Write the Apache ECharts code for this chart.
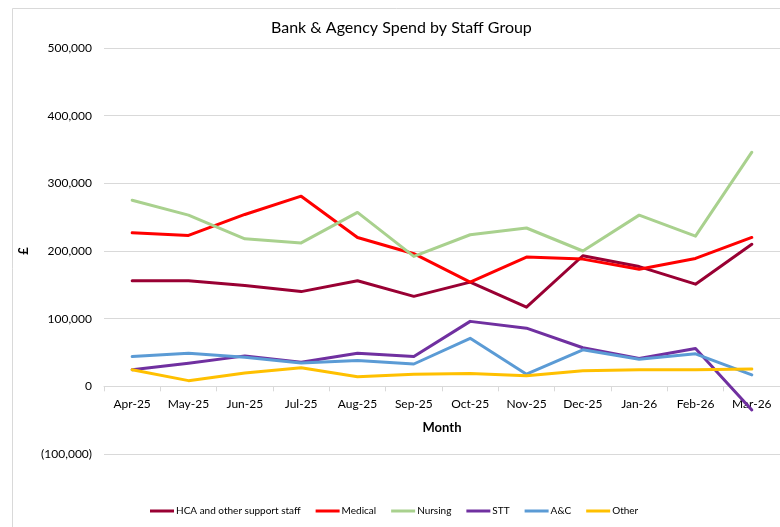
<!DOCTYPE html>
<html>
<head>
<meta charset="utf-8">
<script src="https://cdn.jsdelivr.net/npm/echarts@6/dist/echarts.min.js"></script>
<style>
  html, body { margin: 0; padding: 0; background: #fff; }
  #chart { width: 780px; height: 527px; }
</style>
</head>
<body>
<div id="chart"></div>
<script>
// Monthly bank & agency spend (£) per staff group
const months = ['Apr-25', 'May-25', 'Jun-25', 'Jul-25', 'Aug-25', 'Sep-25',
                'Oct-25', 'Nov-25', 'Dec-25', 'Jan-26', 'Feb-26', 'Mar-26'];
const hca     = [156000, 156000, 149000, 140000, 156000, 133000, 154000, 117000, 193000, 177000, 151000, 210000];
const medical = [227000, 223000, 254000, 281000, 220000, 196000, 154000, 191000, 188000, 173000, 189000, 220000];
const nursing = [275000, 253000, 218000, 212000, 257000, 192000, 224000, 234000, 200000, 253000, 222000, 346000];
const stt     = [24600, 34000, 45000, 35500, 49000, 44000, 96000, 86000, 57000, 41000, 56000, -35000];
const ac      = [44000, 49000, 43000, 34500, 38000, 33000, 71000, 18000, 54000, 40000, 48000, 17000];
const other   = [24600, 8400, 19700, 27600, 14300, 18000, 19000, 15800, 23000, 24600, 24600, 25500];
const yTicks  = { min: -100000, max: 500000, step: 100000 };

const FONT = 'Lato, "Open Sans", sans-serif';

// plot area
const GRID = { left: 104, top: 48, width: 686, height: 406 };
// pixel distance from the bottom of the plot to the zero line
const zeroOffset = GRID.height * (0 - yTicks.min) / (yTicks.max - yTicks.min);

function fmt(v) {
  const s = Math.abs(v).toLocaleString('en-GB');
  return v < 0 ? '(' + s + ')' : s;
}

const seriesDefs = [
  { name: 'HCA and other support staff', data: hca,     color: '#990033' },
  { name: 'Medical',                     data: medical, color: '#FF0000' },
  { name: 'Nursing',                     data: nursing, color: '#A9D18E' },
  { name: 'STT',                         data: stt,     color: '#7030A0' },
  { name: 'A&C',                         data: ac,      color: '#5B9BD5' },
  { name: 'Other',                       data: other,   color: '#FFC000' }
];

const chart = echarts.init(document.getElementById('chart'), null, { renderer: 'canvas' });
chart.setOption({
  animation: false,
  backgroundColor: '#ffffff',
  textStyle: { fontFamily: FONT },
  title: {
    text: 'Bank & Agency Spend by Staff Group',
    left: 271,
    top: 20,
    padding: 0,
    textStyle: { fontFamily: FONT, fontSize: 16, fontWeight: 'normal', color: '#000' }
  },
  graphic: [{
    type: 'rect',
    shape: { x: 12.5, y: 8.5, width: 800, height: 600 },
    style: { fill: 'none', stroke: '#d9d9d9', lineWidth: 1 },
    silent: true, z: -1
  }],
  legend: {
    left: 150,
    top: 506,
    padding: 0,
    itemWidth: 24,
    itemHeight: 3,
    itemGap: 15,
    icon: 'rect',
    textStyle: { fontFamily: FONT, fontSize: 10, color: '#000', padding: [0, 0, 0, -3] },
    data: seriesDefs.map(s => s.name)
  },
  grid: Object.assign({ containLabel: false }, GRID),
  xAxis: {
    type: 'category',
    data: months,
    boundaryGap: true,
    position: 'bottom',
    offset: -zeroOffset,
    name: 'Month',
    nameLocation: 'middle',
    nameGap: 35,
    nameTextStyle: { fontFamily: FONT, fontSize: 13, fontWeight: 'bold', color: '#000' },
    axisLine: { onZero: false, lineStyle: { color: '#d9d9d9', width: 1 } },
    axisTick: { show: true, length: 5, lineStyle: { color: '#d9d9d9' } },
    axisLabel: { fontFamily: FONT, fontSize: 12, color: '#000', margin: 12, interval: 0 }
  },
  yAxis: {
    type: 'value',
    min: yTicks.min,
    max: yTicks.max,
    interval: yTicks.step,
    name: '£',
    nameLocation: 'middle',
    nameGap: 57,
    nameRotate: 90,
    nameTextStyle: { fontFamily: FONT, fontSize: 13, fontWeight: 'bold', color: '#000' },
    axisLine: { show: false },
    axisTick: { show: false },
    splitLine: { lineStyle: { color: '#d9d9d9', width: 1 } },
    axisLabel: { fontFamily: FONT, fontSize: 12, color: '#000', margin: 12, formatter: fmt }
  },
  series: seriesDefs.map(s => ({
    name: s.name,
    type: 'line',
    data: s.data,
    showSymbol: false,
    symbol: 'none',
    lineStyle: { color: s.color, width: 3, cap: 'round', join: 'round' },
    itemStyle: { color: s.color }
  }))
});
</script>
</body>
</html>
